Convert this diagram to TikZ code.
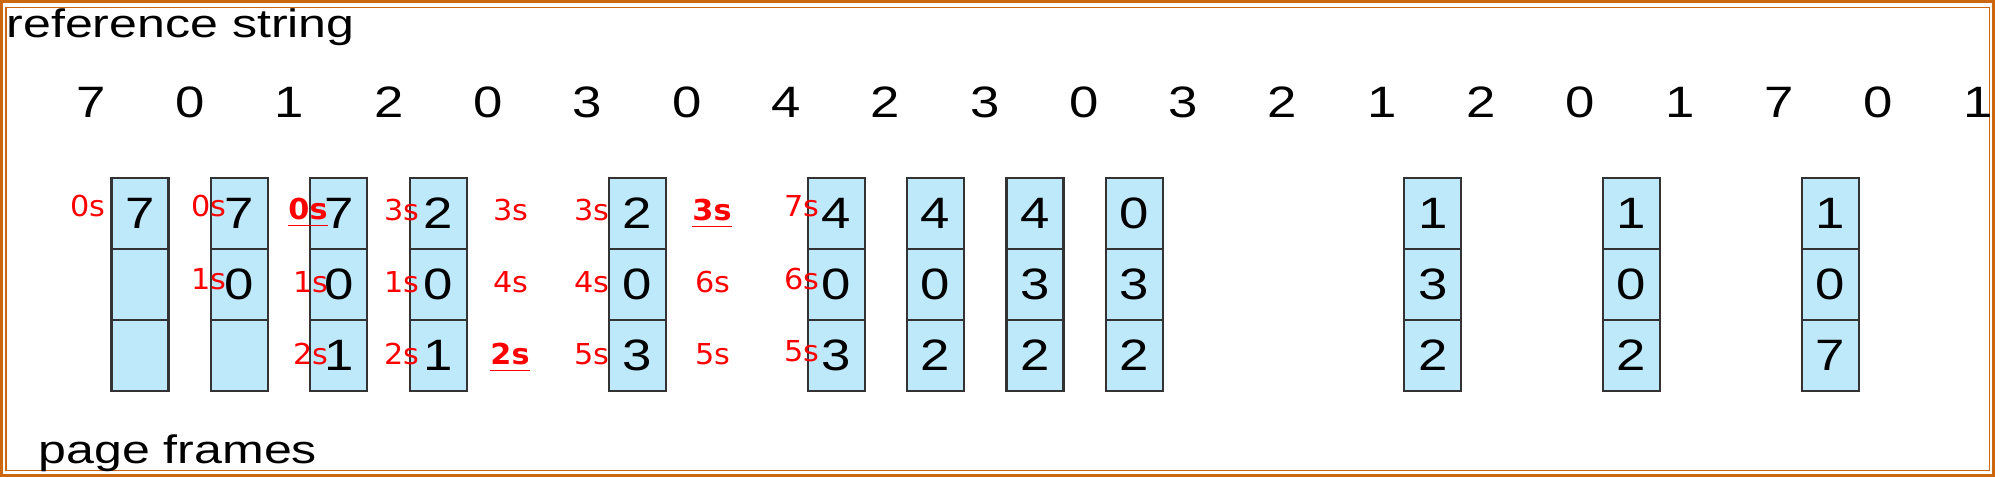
\documentclass[tikz,border=0pt]{standalone}
\usepackage{fontspec}
\usetikzlibrary{positioning}
\setmainfont{Liberation Sans}
\newfontfamily\digitfont[FakeStretch=1.2]{Liberation Sans}
\newfontfamily\titlefont[FakeStretch=1.26]{Liberation Sans}
\newfontfamily\agefont[FakeStretch=1.05]{DejaVu Sans}
\definecolor{framefill}{RGB}{190,233,250}
\definecolor{borderorange}{RGB}{204,102,17}

\begin{document}
\begin{tikzpicture}[x=0.01cm, y=-0.01cm,
    cell/.style={draw=black!80, line width=0.6pt, fill=framefill, minimum width=5.7mm, minimum height=7.1mm, inner sep=0pt, outer sep=0pt, font=\digitfont\fontsize{12.5}{15}\selectfont},
    refdigit/.style={anchor=base, inner sep=0pt, font=\digitfont\fontsize{12.5}{15}\selectfont},
    title/.style={anchor=base west, inner sep=0pt, font=\titlefont\fontsize{11.3}{13}\selectfont},
    age/.style={anchor=base, inner sep=0pt, text=red, font=\agefont\fontsize{8.2}{10}\selectfont}]

    \useasboundingbox (0,0) rectangle (2000,477);
    \draw[borderorange, line width=0.85pt] (1.5,1.5) rectangle (1993.5,475.5);
    \draw[borderorange, line width=0.45pt] (6,7.5) rectangle (1989.5,470.5);

    \node[title] (refstring) at (6,38) {reference string};
    \node[title] (pageframes) at (38,464) {page frames};

    \foreach \d [count=\i from 0] in {7,0,1,2,0,3,0,4,2,3,0,3,2,1,2,0,1,7,0,1}
        \node[refdigit] (ref\i) at (91+99.3*\i,118) {\d};

    \foreach \s/\a/\b/\c in {0/7/{}/{}, 1/7/0/{}, 2/7/0/1, 3/2/0/1, 5/2/0/3, 7/4/0/3,
                             8/4/0/2, 9/4/3/2, 10/0/3/2, 13/1/3/2, 15/1/0/2, 17/1/0/7}
    {
        \node[cell, anchor=north] (f\s-a) at (140+99.44*\s,178) {\a};
        \node[cell, below=0pt of f\s-a] (f\s-b) {\b};
        \node[cell, below=0pt of f\s-b] (f\s-c) {\c};
    }

    \foreach \x/\y/\t [count=\k] in {88/217/0s,
            209/217/0s, 209/290/1s,
            308/220/{\underline{\textbf{0s}}}, 311/293/1s, 311/365/2s,
            402/221/3s, 402/293/1s, 402/365/2s,
            511/221/3s, 511/293/4s, 510/365/{\underline{\textbf{2s}}},
            592/221/3s, 592/293/4s, 592/365/5s,
            712/221/{\underline{\textbf{3s}}}, 713/293/6s, 713/365/5s,
            802/217/7s, 802/290/6s, 802/362/5s}
        \node[age] (age\k) at (\x,\y) {\t};

\end{tikzpicture}
\end{document}
